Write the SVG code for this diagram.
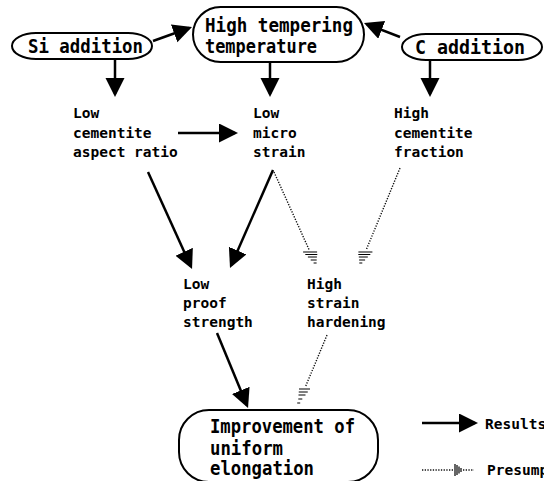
<svg xmlns="http://www.w3.org/2000/svg" width="544" height="481" viewBox="0 0 544 481">
<style>
  .shape { fill: #fff; stroke: #000; stroke-width: 2; }
  .big { font-family: "DejaVu Sans Mono", "Liberation Mono", monospace; font-size: 19px; font-weight: bold; fill: #000; }
  .small { font-family: "DejaVu Sans Mono", "Liberation Mono", monospace; font-size: 14.5px; font-weight: bold; fill: #000; }
  .arrow { stroke: #000; stroke-width: 2.5; fill: none; marker-end: url(#head); }
  .dot { stroke: #111; stroke-width: 1.4; fill: none; stroke-dasharray: 1.3 1.4; }
  .hatch { stroke: #000; stroke-width: 1.2; fill: none; }
</style>
<defs>
  <marker id="head" markerUnits="userSpaceOnUse" markerWidth="22" markerHeight="22" refX="16" refY="9.5" orient="auto">
    <path d="M0,0 L19,9.5 L0,19 Z" fill="#000"/>
  </marker>
</defs>
<rect width="544" height="481" fill="#fff"/>

<g id="si-addition">
  <rect class="shape" x="12" y="33" width="140" height="26" rx="24" ry="13"/>
  <text class="big" x="28" y="53" textLength="115" lengthAdjust="spacingAndGlyphs">Si addition</text>
</g>
<g id="high-tempering">
  <rect class="shape" x="193" y="7" width="171" height="55" rx="27.5"/>
  <text class="big" x="205" y="32" textLength="148" lengthAdjust="spacingAndGlyphs">High tempering</text>
  <text class="big" x="205" y="53" textLength="112" lengthAdjust="spacingAndGlyphs">temperature</text>
</g>
<g id="c-addition">
  <rect class="shape" x="402" y="34" width="140" height="26" rx="24" ry="13"/>
  <text class="big" x="415" y="54" textLength="110" lengthAdjust="spacingAndGlyphs">C addition</text>
</g>
<g id="low-aspect">
  <text class="small" x="73" y="118">Low</text>
  <text class="small" x="73" y="138">cementite</text>
  <text class="small" x="73" y="157">aspect ratio</text>
</g>
<g id="low-micro">
  <text class="small" x="253" y="118">Low</text>
  <text class="small" x="253" y="138">micro</text>
  <text class="small" x="253" y="157">strain</text>
</g>
<g id="high-fraction">
  <text class="small" x="394" y="118">High</text>
  <text class="small" x="394" y="138">cementite</text>
  <text class="small" x="394" y="157">fraction</text>
</g>
<g id="low-proof">
  <text class="small" x="183" y="289">Low</text>
  <text class="small" x="183" y="308">proof</text>
  <text class="small" x="183" y="327">strength</text>
</g>
<g id="high-hardening">
  <text class="small" x="307" y="289">High</text>
  <text class="small" x="307" y="308">strain</text>
  <text class="small" x="307" y="327">hardening</text>
</g>
<g id="improvement">
  <rect class="shape" x="179" y="410" width="199" height="72" rx="30"/>
  <text class="big" x="210" y="433" textLength="145" lengthAdjust="spacingAndGlyphs">Improvement of</text>
  <text class="big" x="210" y="455" textLength="73" lengthAdjust="spacingAndGlyphs">uniform</text>
  <text class="big" x="210" y="475" textLength="104" lengthAdjust="spacingAndGlyphs">elongation</text>
</g>

<g id="connectors">
  <line class="arrow" x1="153" y1="41" x2="189.2" y2="28"/>
  <line class="arrow" x1="400" y1="37" x2="366.8" y2="24.1"/>
  <line class="arrow" x1="115" y1="60" x2="115" y2="94"/>
  <line class="arrow" x1="270" y1="63" x2="270" y2="94"/>
  <line class="arrow" x1="430" y1="61" x2="430" y2="94"/>
  <line class="arrow" x1="178" y1="133" x2="235" y2="133"/>
  <line class="arrow" x1="148" y1="172" x2="190.8" y2="266.3"/>
  <line class="arrow" x1="273" y1="170" x2="231.2" y2="265.3"/>
  <line class="arrow" x1="217" y1="333" x2="246.9" y2="405.2"/>

  <line class="dot" x1="274" y1="172" x2="309.2" y2="250"/>
  <path class="hatch" d="M303.1,252 h14 M305.3,254.5 h12 M307.9,257 h9 M310.7,260 h6 M313.6,263 h3"/>
  <line class="dot" x1="400" y1="168" x2="366.2" y2="250"/>
  <path class="hatch" d="M358.4,252 h14 M358.3,254.5 h12 M358.8,257 h9 M359.1,260 h6 M359.3,263 h3"/>
  <line class="dot" x1="327" y1="335" x2="305.8" y2="386"/>
  <path class="hatch" d="M299,389 h11 M298.75,392 h9 M298.5,395 h7 M298.3,399 h4 M297.2,403 h3"/>
</g>

<g id="legend">
  <line class="arrow" x1="422" y1="423" x2="475" y2="423"/>
  <text class="small" x="485" y="429">Results</text>
  <line class="dot" x1="422" y1="470" x2="454" y2="470"/>
  <path class="hatch" d="M455,464 v12 M457,465 v10 M459,466.5 v7 M461,468 v4"/>
  <line class="dot" x1="463" y1="470" x2="474" y2="470"/>
  <text class="small" x="487" y="475">Presump</text>
</g>
</svg>
